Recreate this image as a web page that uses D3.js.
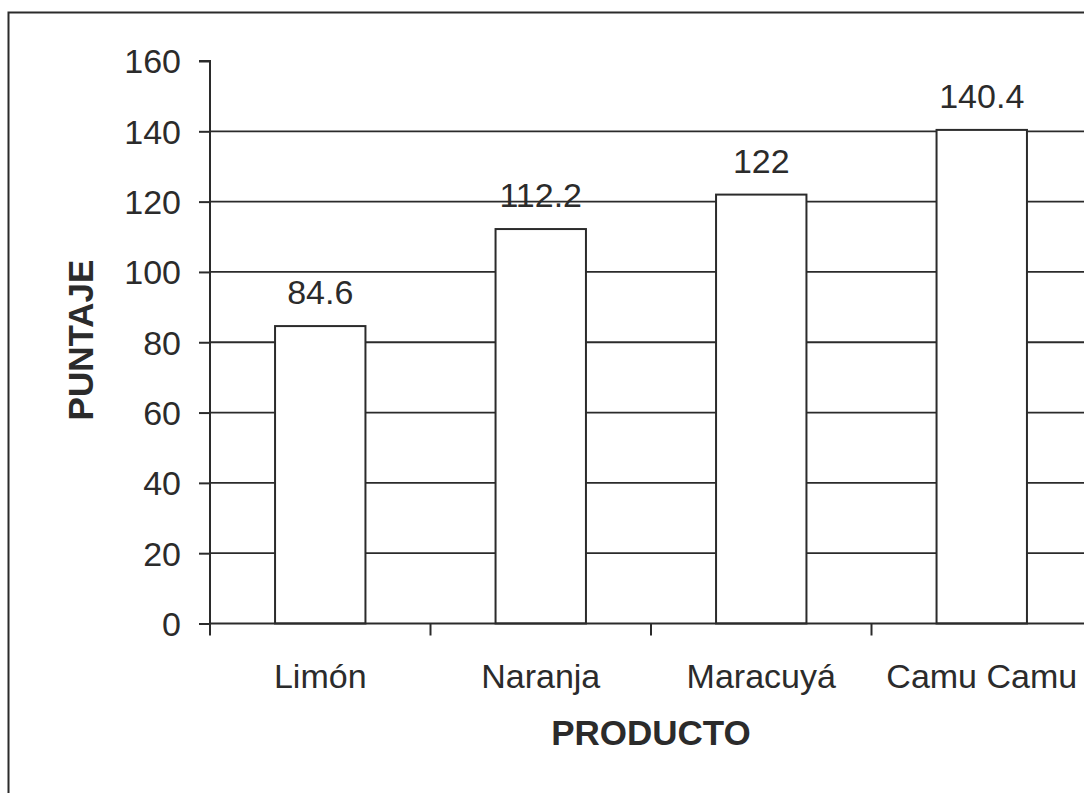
<!DOCTYPE html>
<html>
<head>
<meta charset="utf-8">
<script src="https://cdn.jsdelivr.net/npm/d3@7"></script>
<style>
  html, body { margin: 0; padding: 0; background: #fff; }
  svg { display: block; }
  text { font-family: "Liberation Sans", Arial, sans-serif; fill: #2b2b2b; }
</style>
</head>
<body>
<svg id="chart" width="1084" height="793"></svg>
<script>
// Puntaje por producto
const categories = ["Limón", "Naranja", "Maracuyá", "Camu Camu"];
const values = [84.6, 112.2, 122, 140.4];
const yTicks = [0, 20, 40, 60, 80, 100, 120, 140, 160];

const ink = "#2b2b2b";
const svg = d3.select("#chart");

const plot = { left: 210, right: 1092, top: 61, bottom: 623.5 };

const x = d3.scaleBand()
  .domain(categories)
  .range([plot.left, plot.right])
  .paddingInner(0.59)
  .paddingOuter(0.295);

const y = d3.scaleLinear()
  .domain([0, 160])
  .range([plot.bottom, plot.top]);

// Outer frame (runs past the right and bottom edges)
svg.append("rect")
  .attr("x", 8.5).attr("y", 12.5)
  .attr("width", 1200).attr("height", 900)
  .attr("fill", "none").attr("stroke", ink).attr("stroke-width", 2);

// Horizontal gridlines
svg.append("g")
  .selectAll("line")
  .data(yTicks.filter(d => d > 0 && d < 160))
  .join("line")
  .attr("x1", plot.left).attr("x2", plot.right)
  .attr("y1", d => y(d)).attr("y2", d => y(d))
  .attr("stroke", ink).attr("stroke-width", 1.8);

// Bars
svg.append("g")
  .selectAll("rect")
  .data(categories.map((c, i) => ({ c, v: values[i] })))
  .join("rect")
  .attr("x", d => x(d.c))
  .attr("y", d => y(d.v))
  .attr("width", x.bandwidth())
  .attr("height", d => y(0) - y(d.v))
  .attr("fill", "#fff")
  .attr("stroke", ink).attr("stroke-width", 2);

// Value labels
svg.append("g")
  .selectAll("text")
  .data(categories.map((c, i) => ({ c, v: values[i] })))
  .join("text")
  .attr("x", d => x(d.c) + x.bandwidth() / 2)
  .attr("y", d => y(d.v) - 22)
  .attr("text-anchor", "middle")
  .attr("font-size", 34)
  .text(d => String(d.v));

// Y axis
const yAxis = d3.axisLeft(y).tickValues(yTicks).tickSize(11).tickPadding(18).tickFormat(d3.format("d"));
const gy = svg.append("g").attr("transform", `translate(${plot.left},0)`).call(yAxis);
gy.select(".domain").attr("stroke", ink).attr("stroke-width", 2).attr("d", `M-11,${y(160)}H0V${y(0)}`);
gy.selectAll(".tick line").attr("stroke", ink).attr("stroke-width", 2);
gy.selectAll(".tick text")
  .attr("font-size", 34)
  .attr("font-family", "Liberation Sans, Arial, sans-serif")
  .attr("fill", ink)
  .attr("dy", "0.35em");

// X axis line and category boundary ticks
const step = x.step();
const boundaries = categories.map(c => x(c) - step * x.paddingInner() / 2);
svg.append("line")
  .attr("x1", plot.left).attr("x2", plot.right)
  .attr("y1", y(0)).attr("y2", y(0))
  .attr("stroke", ink).attr("stroke-width", 2);
svg.append("g")
  .selectAll("line")
  .data(boundaries)
  .join("line")
  .attr("x1", d => d).attr("x2", d => d)
  .attr("y1", y(0)).attr("y2", y(0) + 12)
  .attr("stroke", ink).attr("stroke-width", 2);

// Category labels
svg.append("g")
  .selectAll("text")
  .data(categories)
  .join("text")
  .attr("x", d => x(d) + x.bandwidth() / 2)
  .attr("y", 688)
  .attr("text-anchor", "middle")
  .attr("font-size", 34)
  .text(d => d);

// Axis titles
svg.append("text")
  .attr("x", (plot.left + plot.right) / 2)
  .attr("y", 745)
  .attr("text-anchor", "middle")
  .attr("font-size", 35)
  .attr("font-weight", "bold")
  .text("PRODUCTO");

svg.append("text")
  .attr("transform", "translate(93,340) rotate(-90)")
  .attr("text-anchor", "middle")
  .attr("font-size", 35)
  .attr("font-weight", "bold")
  .text("PUNTAJE");
</script>
</body>
</html>
